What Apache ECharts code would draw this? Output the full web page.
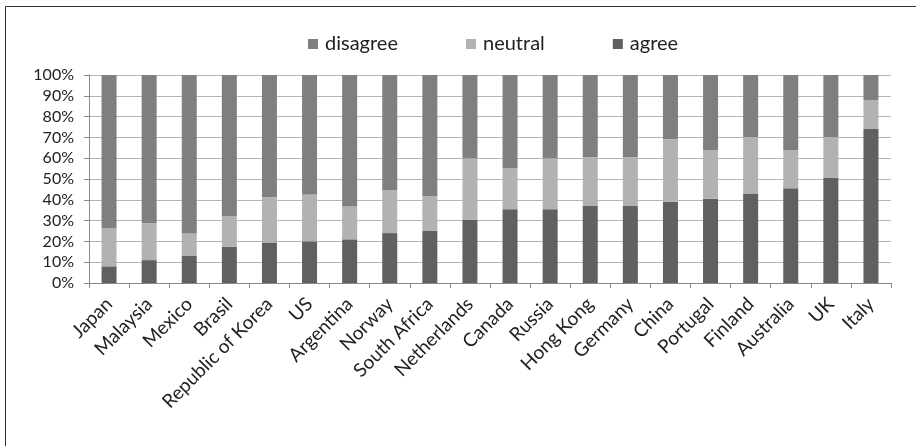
<!DOCTYPE html>
<html>
<head>
<meta charset="utf-8">
<script src="https://cdn.jsdelivr.net/npm/echarts@6/dist/echarts.min.js"></script>
<style>
  html, body { margin: 0; padding: 0; background: #fff; }
  #chart { width: 916px; height: 446px; }
</style>
</head>
<body>
<div id="chart"></div>
<script>
// Survey responses per country, share of respondents (%)
const countries = ['Japan', 'Malaysia', 'Mexico', 'Brasil', 'Republic of Korea', 'US', 'Argentina',
  'Norway', 'South Africa', 'Netherlands', 'Canada', 'Russia', 'Hong Kong', 'Germany', 'China',
  'Portugal', 'Finland', 'Australia', 'UK', 'Italy'];
const agree = [8, 11, 13, 17.5, 19.5, 20, 21, 24, 25, 30.5, 35.5, 35.5, 37, 37, 39, 40.5, 43, 45.5, 50.5, 74];
const neutral = [18.5, 17.7, 10.8, 14.7, 21.7, 22.6, 15.8, 20.7, 16.8, 29.5, 19.5, 24.5, 23.6, 23.6, 30.2, 23.5, 27.2, 18.5, 19.7, 14];
const disagree = [73.5, 71.3, 76.2, 67.8, 58.8, 57.4, 63.2, 55.3, 58.2, 40, 45, 40, 39.4, 39.4, 30.8, 36, 29.8, 36, 29.8, 12];
const yTicks = [0, 10, 20, 30, 40, 50, 60, 70, 80, 90, 100];

const FONT = 'Lato';
const chart = echarts.init(document.getElementById('chart'), null, { renderer: 'canvas' });

const seriesDefs = [
  { name: 'agree', data: agree, color: '#606060' },
  { name: 'neutral', data: neutral, color: '#b2b2b2' },
  { name: 'disagree', data: disagree, color: '#7f7f7f' }
];

chart.setOption({
  backgroundColor: '#fff',
  animation: false,
  graphic: [{
    type: 'rect',
    shape: { x: 5.5, y: 6.5, width: 1000, height: 1000 },
    style: { fill: 'none', stroke: '#333', lineWidth: 1 },
    silent: true
  }],
  legend: {
    data: ['disagree', 'neutral', 'agree'],
    left: 303,
    top: 29,
    itemWidth: 10,
    itemHeight: 10,
    itemGap: 68,
    icon: 'rect',
    textStyle: { fontFamily: FONT, fontSize: 20, color: '#222', padding: [0, 0, 0, 2] }
  },
  grid: { left: 89, right: 25, top: 75, bottom: 163, containLabel: false },
  xAxis: {
    type: 'category',
    data: countries,
    boundaryGap: true,
    axisLine: { lineStyle: { color: '#888', width: 1 } },
    axisTick: { show: true, length: 5, lineStyle: { color: '#888' } },
    axisLabel: { rotate: 45, interval: 0, fontFamily: FONT, fontSize: 19, color: '#222', margin: 18 }
  },
  yAxis: {
    type: 'value',
    min: yTicks[0],
    max: yTicks[yTicks.length - 1],
    interval: 10,
    axisLine: { show: true, lineStyle: { color: '#888', width: 1 } },
    axisTick: { show: true, length: 5, lineStyle: { color: '#888' } },
    splitLine: { show: true, lineStyle: { color: '#b5b5b5', width: 1 } },
    axisLabel: { formatter: v => v + '%', fontFamily: FONT, fontSize: 16, color: '#222', margin: 15 }
  },
  series: seriesDefs.map(s => ({
    name: s.name,
    type: 'bar',
    stack: 'total',
    barWidth: 15,
    data: s.data,
    itemStyle: { color: s.color }
  }))
});
</script>
</body>
</html>
